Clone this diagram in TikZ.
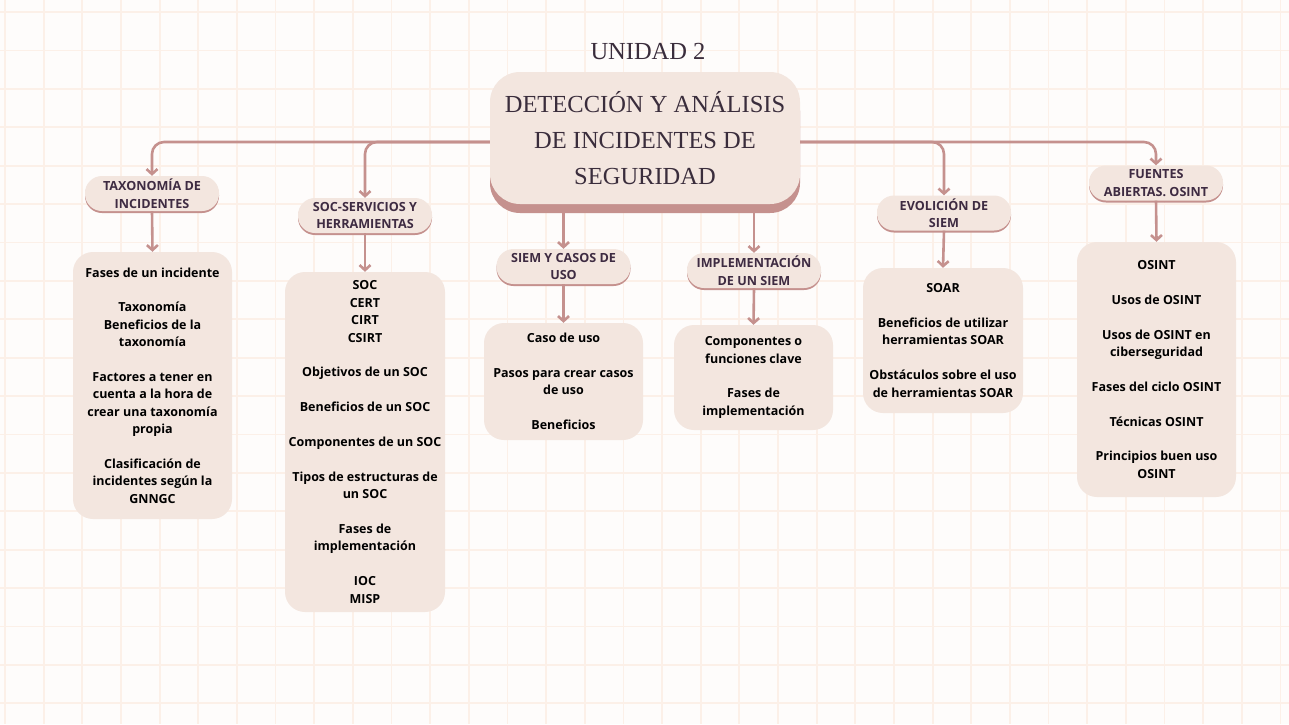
\documentclass[tikz,border=0pt]{standalone}
\usepackage{fontspec}
\newfontfamily\osans{Open Sans}
\newfontfamily\titlefont{Liberation Serif}
\usetikzlibrary{arrows.meta,shadows}

\definecolor{rose}{HTML}{C5918E}
\definecolor{blush}{HTML}{F3E6DF}
\definecolor{plum}{HTML}{3E2B42}
\definecolor{gridline}{HTML}{FCF0E8}
\definecolor{paper}{HTML}{FEFCFB}
\definecolor{ink}{HTML}{3A2D3C}

\tikzset{
  hdr/.style={fill=blush, rounded corners=17pt, minimum width=134pt, minimum height=35pt,
    inner sep=0pt, align=center, text=plum, font=\osans\bfseries\fontsize{12.6}{17.4}\selectfont,
    drop shadow={shadow xshift=0pt, shadow yshift=-2pt, fill=rose, opacity=1}},
  topic/.style={fill=blush, rounded corners=20pt, inner sep=0pt, align=center,
    font=\osans\bfseries\fontsize{12.5}{17.4}\selectfont},
  link/.style={draw=rose, line width=2.6pt, -{Straight Barb[length=5pt,width=11pt]}},
}

\begin{document}
\begin{tikzpicture}[x=1pt,y=-1pt]
\useasboundingbox (0,0) rectangle (1289,724);
\fill[paper] (0,0) rectangle (1289,724);

% grid paper
\foreach \i in {0,...,33}
  \draw[gridline, line width=1.8pt] ({5+38.65*\i},0) -- ({5+38.65*\i},724);
\foreach \j in {0,...,18}
  \draw[gridline, line width=1.8pt] (0,{12+38.4*\j}) -- (1289,{12+38.4*\j});

% title
\node[font=\titlefont\fontsize{24.5}{36}\selectfont, text=ink] (unidad) at (648,52) {UNIDAD 2};
\node[fill=blush, rounded corners=30pt, minimum width=310pt, minimum height=132pt, align=center,
  font=\titlefont\fontsize{24.5}{36}\selectfont, text=ink,
  drop shadow={shadow xshift=0pt, shadow yshift=-9pt, fill=rose, opacity=1}] (main) at (645,138)
  {DETECCIÓN Y ANÁLISIS\\DE INCIDENTES DE\\SEGURIDAD};

% headers
\node[hdr] (taxo) at (152,193.5) {TAXONOMÍA DE\\INCIDENTES};
\node[hdr] (soc) at (365,215.5) {SOC-SERVICIOS Y\\HERRAMIENTAS};
\node[hdr] (siem) at (563.5,266.5) {SIEM Y CASOS DE\\USO};
\node[hdr] (impl) at (754,270.5) {IMPLEMENTACIÓN\\DE UN SIEM};
\node[hdr] (evol) at (944,213) {EVOLICIÓN DE\\SIEM};
\node[hdr] (osint) at (1156,183) {FUENTES\\ABIERTAS. OSINT};

% topic lists
\node[topic, minimum width=159pt, minimum height=267pt] (taxolist) at (152.5,385.5)
  {Fases de un incidente\\[17.4pt] Taxonomía\\Beneficios de la\\taxonomía\\[17.4pt]
   Factores a tener en\\cuenta a la hora de\\crear una taxonomía\\propia\\[17.4pt]
   Clasificación de\\incidentes según la\\GNNGC};
\node[topic, minimum width=160pt, minimum height=340pt] (soclist) at (365,442)
  {SOC\\CERT\\CIRT\\CSIRT\\[17.4pt] Objetivos de un SOC\\[17.4pt] Beneficios de un SOC\\[17.4pt]
   Componentes de un SOC\\[17.4pt] Tipos de estructuras de\\un SOC\\[17.4pt]
   Fases de\\implementación\\[17.4pt] IOC\\MISP};
\node[topic, minimum width=159pt, minimum height=117pt] (siemlist) at (563.5,381.5)
  {Caso de uso\\[17.4pt] Pasos para crear casos\\de uso\\[17.4pt] Beneficios};
\node[topic, minimum width=159pt, minimum height=105pt] (impllist) at (753.5,377.5)
  {Componentes o\\funciones clave\\[17.4pt] Fases de\\implementación};
\node[topic, minimum width=160pt, minimum height=145pt] (evollist) at (943,340.5)
  {SOAR\\[17.4pt] Beneficios de utilizar\\herramientas SOAR\\[17.4pt]
   Obstáculos sobre el uso\\de herramientas SOAR};
\node[topic, minimum width=159pt, minimum height=255pt] (osintlist) at (1156.5,369.5)
  {OSINT\\[17.4pt] Usos de OSINT\\[17.4pt] Usos de OSINT en\\ciberseguridad\\[17.4pt]
   Fases del ciclo OSINT\\[17.4pt] Técnicas OSINT\\[17.4pt] Principios buen uso\\OSINT};

% connectors
\draw[link, rounded corners=12pt] ([yshift=-4pt]main.west) -| (taxo.north);
\draw[link, rounded corners=12pt] ([yshift=-4pt]main.west) -| (soc.north);
\draw[link, rounded corners=12pt] ([yshift=-4pt]main.east) -| (evol.north);
\draw[link, rounded corners=12pt] ([yshift=-4pt]main.east) -| (osint.north);
\coordinate (siemtop) at (siem.north |- main.south);
\coordinate (impltop) at (impl.north |- main.south);
\draw[link] ([yshift=-9pt]siemtop) -- (siem.north);
\draw[link] ([yshift=-9pt]impltop) -- (impl.north);

\draw[link] (taxo.south) -- (taxolist.north);
\draw[link] (soc.south) -- (soclist.north);
\draw[link] (siem.south) -- (siemlist.north);
\draw[link] (impl.south) -- (impllist.north);
\draw[link] (evol.south) -- (evollist.north);
\draw[link] (osint.south) -- (osintlist.north);

\end{tikzpicture}
\end{document}
